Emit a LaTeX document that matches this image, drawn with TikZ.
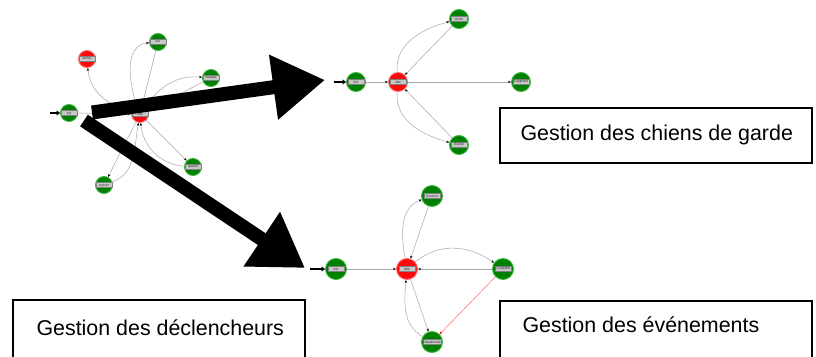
\documentclass[tikz,border=0pt]{standalone}
\usepackage{fontspec}
\setmainfont{Liberation Sans}
\usetikzlibrary{arrows.meta}
\definecolor{stgreen}{RGB}{0,128,0}
\definecolor{stgreenrim}{RGB}{60,180,60}
\definecolor{stred}{RGB}{250,10,10}
\definecolor{stredrim}{RGB}{255,110,110}
\definecolor{labfill}{RGB}{200,200,200}
\begin{document}
\begin{tikzpicture}[x=1pt,y=-1pt,
  gstate/.style={circle,fill=stgreen,draw=stgreenrim,line width=0.9pt,inner sep=0pt,minimum size=#1},
  gstate/.default=19pt,
  rstate/.style={circle,fill=stred,draw=stredrim,line width=0.9pt,inner sep=0pt,minimum size=#1},
  rstate/.default=19pt,
  lab/.style={fill=labfill,draw=gray,line width=0.2pt,inner sep=0.4pt,minimum width=16pt,minimum height=5pt,
    font=\fontsize{3.4}{3.6}\selectfont,text=black!85},
  tr/.style={draw=gray!70,line width=0.5pt,-{Stealth[length=3pt,width=2.4pt,black]}},
  trred/.style={draw=red!60,line width=0.5pt,-{Stealth[length=3pt,width=2.4pt,red]}},
  start/.style={line width=1.6pt,-{Triangle[length=3.5pt,width=5pt]}},
  bigarrow/.style={line width=14pt,-{Triangle[length=52pt,width=62pt]}},
  titlebox/.style={draw=black,line width=1.4pt},
  title/.style={anchor=west,font=\fontsize{21.4}{24}\selectfont}]
\useasboundingbox (0,0) rectangle (816,356);
\clip (0,0) rectangle (816,356);

% ---- trigger handling ----
\node[gstate=17pt] (tI) at (69,113) {};
\node[rstate=17pt] (tIdle) at (140,114) {};
\node[rstate=17pt] (tArm) at (87,59) {};
\node[gstate=17pt] (tSur) at (158,42) {};
\node[gstate=17pt] (tCh) at (211,78) {};
\node[gstate=17pt] (tQ) at (193,167) {};
\node[gstate=17pt] (tAct) at (104,185) {};
\node[lab] (tIl) at (tI) {init};
\node[lab] (tIdlel) at (tIdle) {idle};
\node[lab] (tArml) at (tArm) {armer};
\node[lab] (tSurl) at (tSur) {sur};
\node[lab] (tChl) at (tCh) {chaque};
\node[lab] (tQl) at (tQ) {quand};
\node[lab] (tActl) at (tAct) {activer};
\coordinate (tS) at (50,113);
\draw[start] (tS) -- (tI);
\draw[tr] (tI) -- (tIdle);
\draw[tr] (tIdle) to[out=165,in=-85] (tArm);
\draw[tr] (tIdle) to[out=110,in=185] (tSur);
\draw[tr] (tSur) -- (tIdle);
\draw[tr] (tIdle) to[out=55,in=175] (tCh);
\draw[tr] (tCh) -- (tIdle);
\draw[tr] (tIdle) -- (tQ);
\draw[tr] (tQ) to[out=175,in=-85] (tIdle);
\draw[tr] (tIdle) -- (tAct);
\draw[tr] (tAct) to[out=20,in=-100] (tIdle);

% ---- watchdog handling ----
\node[gstate] (wI) at (356,82) {};
\node[rstate] (wIdle) at (398,82) {};
\node[gstate] (wTop) at (459,19) {};
\node[gstate] (wR) at (521,82) {};
\node[gstate] (wB) at (459,145) {};
\node[lab] (wIl) at (wI) {Init};
\node[lab] (wIdlel) at (wIdle) {Idle};
\node[lab] (wTopl) at (wTop) {Armé};
\node[lab] (wRl) at (wR) {Supprimé};
\node[lab] (wBl) at (wB) {Expiré};
\coordinate (wS) at (334,82);
\draw[start] (wS) -- (wI);
\draw[tr] (wI) -- (wIdle);
\draw[tr] (wIdle) to[out=95,in=195] (wTop);
\draw[tr] (wTop) -- (wIdle);
\draw[tr] (wIdle) -- (wR);
\draw[tr] (wIdle) to[out=-95,in=165] (wB);
\draw[tr] (wB) -- (wIdle);

% ---- event handling ----
\node[gstate=21pt] (eI) at (336,269) {};
\node[rstate=21pt] (eIdle) at (407,269) {};
\node[gstate=21pt] (eTop) at (432,196) {};
\node[gstate=21pt] (eR) at (503,269) {};
\node[gstate=21pt] (eB) at (432,342) {};
\node[lab] (eIl) at (eI) {Init};
\node[lab] (eIdlel) at (eIdle) {Idle};
\node[lab] (eTopl) at (eTop) {Souscrit};
\node[lab] (eRl) at (eR) {Complété};
\node[lab] (eBl) at (eB) {Désabonné};
\coordinate (eS) at (310,269);
\draw[start] (eS) -- (eI);
\draw[tr] (eI) -- (eIdle);
\draw[tr] (eIdle) to[out=100,in=200] (eTop);
\draw[tr] (eTop) -- (eIdle);
\draw[tr] (eIdle) to[out=40,in=145] (eR);
\draw[tr] (eR) -- (eIdle);
\draw[tr] (eIdle) -- (eB);
\draw[tr] (eB) to[out=150,in=-95] (eIdle);
\draw[trred] (eR) -- (eB);

% ---- big arrows from the trigger graph ----
\coordinate (a1s) at (92,112.5);
\coordinate (a1e) at (325,80);
\coordinate (a2s) at (84,120.5);
\coordinate (a2e) at (305,268);
\draw[bigarrow] (a1s) -- (a1e);
\draw[bigarrow] (a2s) -- (a2e);

% ---- captions ----
\draw[titlebox] (500,108) rectangle (812,163);
\node[title] (c1) at (517,134.5) {Gestion des chiens de garde};
\draw[titlebox] (13,300) rectangle (305,366);
\node[title] (c2) at (33,328) {Gestion des déclencheurs};
\draw[titlebox] (500,301) rectangle (812,366);
\node[title] (c3) at (519,325) {Gestion des événements};
\end{tikzpicture}
\end{document}
